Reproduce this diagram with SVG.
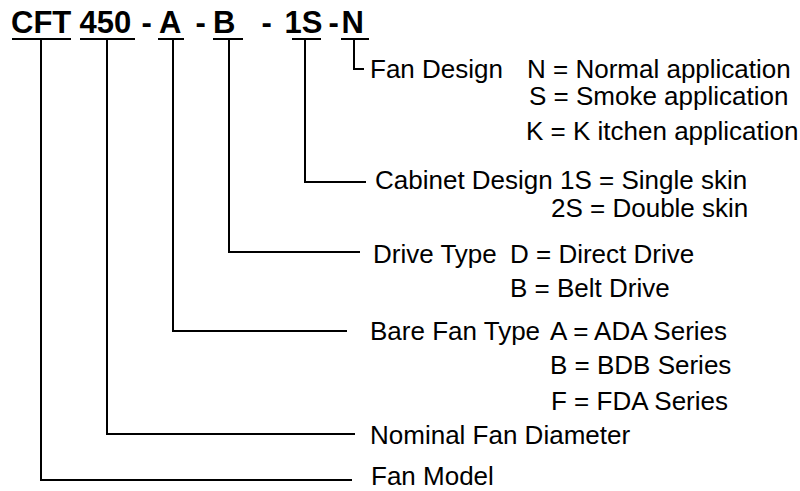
<svg xmlns="http://www.w3.org/2000/svg" width="800" height="491" viewBox="0 0 800 491">
<style>
  .t { font-family: "Liberation Sans", Arial, sans-serif; font-size: 26px; fill: #000; }
  .code { font-family: "Liberation Sans", Arial, sans-serif; font-size: 31px; font-weight: bold; fill: #000; }
  .ln { fill: none; stroke: #000; stroke-width: 2; }
</style>
<rect width="800" height="491" fill="#fff"/>
<g id="code">
  <text class="code" x="11" y="33">CFT</text>
  <text class="code" x="79.5" y="33">450</text>
  <text class="code" x="141.5" y="33">-</text>
  <text class="code" x="159" y="33">A</text>
  <text class="code" x="195.5" y="33">-</text>
  <text class="code" x="213" y="33">B</text>
  <text class="code" x="261.5" y="33">-</text>
  <text class="code" x="284.5" y="33">1S</text>
  <text class="code" x="328.5" y="33">-</text>
  <text class="code" x="341.5" y="33">N</text>
  <path class="ln" d="M12 39H71M80 39H135M158 39H184M213 39H243M292 39H321M341 39H369"/>
</g>
<g id="connectors">
  <path class="ln" d="M354 40V69H364"/>
  <path class="ln" d="M305 40V182H366"/>
  <path class="ln" d="M229 40V252H360"/>
  <path class="ln" d="M173 40V331H347"/>
  <path class="ln" d="M107 40V434H355"/>
  <path class="ln" d="M41 40V480H352"/>
</g>
<g id="fan-design">
  <text class="t" x="370" y="78">Fan Design</text>
  <text class="t" x="527" y="78">N = Normal application</text>
  <text class="t" x="529" y="105">S = Smoke application</text>
  <text class="t" x="526" y="140">K = K itchen application</text>
</g>
<g id="cabinet-design">
  <text class="t" x="375" y="189">Cabinet Design 1S = Single skin</text>
  <text class="t" x="551" y="217">2S = Double skin</text>
</g>
<g id="drive-type">
  <text class="t" x="373" y="263">Drive Type</text>
  <text class="t" x="510" y="263">D = Direct Drive</text>
  <text class="t" x="510" y="297">B = Belt Drive</text>
</g>
<g id="bare-fan-type">
  <text class="t" x="370" y="340">Bare Fan Type</text>
  <text class="t" x="550" y="340">A = ADA Series</text>
  <text class="t" x="550" y="374">B = BDB Series</text>
  <text class="t" x="551" y="410">F = FDA Series</text>
</g>
<g id="nominal-diameter">
  <text class="t" x="370" y="444">Nominal Fan Diameter</text>
</g>
<g id="fan-model">
  <text class="t" x="371" y="485">Fan Model</text>
</g>
</svg>
